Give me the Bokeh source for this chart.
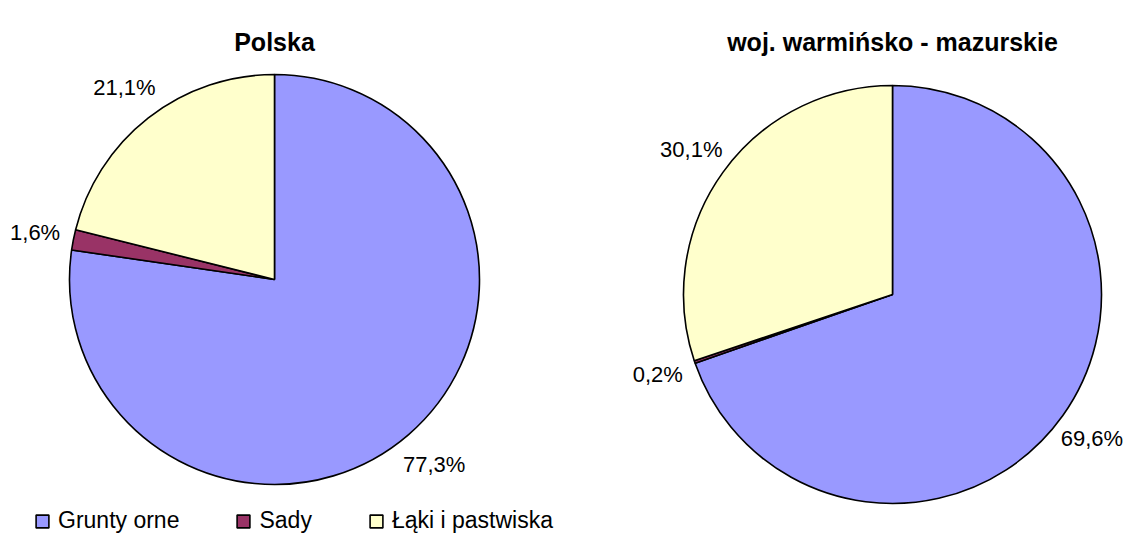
import math
from bokeh.plotting import figure
from bokeh.models import ColumnDataSource, Range1d, Legend, LegendItem
from bokeh.core.properties import value
from bokeh.embed import file_html
from bokeh.resources import INLINE

# ---- data ----
categories = ["Grunty orne", "Sady", "Łąki i pastwiska"]
colors = ["#9999FF", "#993366", "#FFFFCC"]
polska = [77.3, 1.6, 21.1]
warminsko = [69.6, 0.2, 30.1]
titles = ["Polska", "woj. warmińsko - mazurskie"]

# ---- layout (picture pixels) ----
W, H = 1123, 535
PAGE_H = 551
FONT = "Liberation Sans"
LABEL_SIZE = 22
pies = [
    dict(values=polska, cx=274, cy=279, r=205, title=titles[0]),
    dict(values=warminsko, cx=892, cy=294, r=209, title=titles[1]),
]
LABEL_GAP = 39


def Y(page_y):
    return PAGE_H - page_y


p = figure(width=W, height=H, output_backend="svg", toolbar_location=None,
           x_range=Range1d(0, W), y_range=Range1d(PAGE_H - H, PAGE_H),
           x_axis_location=None, y_axis_location=None, min_border=0)
p.grid.visible = False
p.outline_line_color = None
p.background_fill_color = "white"

legend_renderer = None
for pie in pies:
    vals = pie["values"]
    total = sum(vals)
    starts, ends, lx, ly, labels = [], [], [], [], []
    cum = 0.0
    for v in vals:
        c0 = cum / total
        cum += v
        c1 = cum / total
        starts.append(math.pi / 2 - 2 * math.pi * c1)
        ends.append(math.pi / 2 - 2 * math.pi * c0)
        mid = math.pi * (c0 + c1)  # clockwise from 12 o'clock
        d = pie["r"] + LABEL_GAP
        txt = f"{v:.1f}%".replace(".", ",")
        half_w = 0.26 * LABEL_SIZE * len(txt)
        x = pie["cx"] + d * math.sin(mid)
        x = min(max(x, half_w + 2), W - half_w - 3)  # keep labels inside the canvas
        lx.append(x)
        ly.append(Y(pie["cy"] - d * math.cos(mid)))
        labels.append(txt)
    src = ColumnDataSource(dict(start=starts, end=ends, color=colors, cat=categories,
                                x=[pie["cx"]] * len(vals), y=[Y(pie["cy"])] * len(vals)))
    r = p.wedge(x="x", y="y", radius=pie["r"], start_angle="start", end_angle="end",
                direction="anticlock", fill_color="color", line_color="black",
                line_width=1.6, source=src)
    if legend_renderer is None:
        legend_renderer = r
    p.text(x=lx, y=ly, text=labels, text_font=value(FONT),
           text_font_size=f"{LABEL_SIZE}px",
           text_align="center", text_baseline="middle", text_color="black")
    p.text(x=[pie["cx"]], y=[Y(41)], text=[pie["title"]], text_font=value(FONT),
           text_font_size="25px", text_font_style="bold", text_align="center",
           text_baseline="alphabetic", text_color="black")

items = [LegendItem(label=categories[i], renderers=[legend_renderer], index=i)
         for i in range(len(categories))]
legend = Legend(items=items, orientation="horizontal", location=(34, 1),
                glyph_width=16, glyph_height=16, label_standoff=8, spacing=56,
                label_text_font=FONT, label_text_font_size="23px", label_height=22,
                label_text_color="black",
                padding=0, margin=0, border_line_alpha=0, background_fill_alpha=0)
p.add_layout(legend)

open("out.html", "w").write(file_html(p, INLINE))
